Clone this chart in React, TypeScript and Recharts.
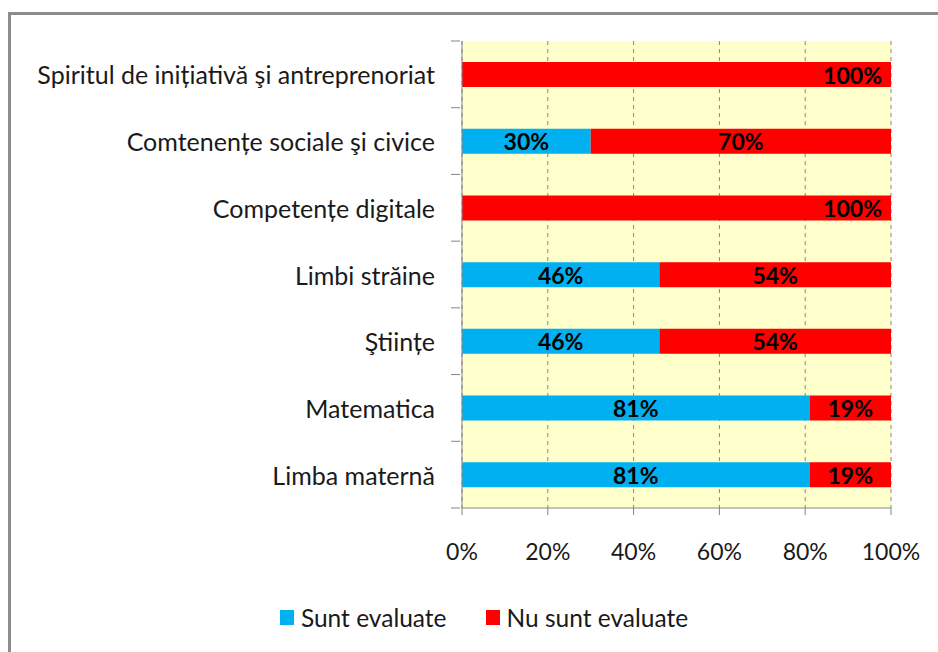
import React from "react";
import { BarChart, Bar, XAxis, YAxis, CartesianGrid, Legend, LabelList } from "recharts";

const categories = [
  "Spiritul de inițiativă şi antreprenoriat",
  "Comtenențe sociale şi civice",
  "Competențe digitale",
  "Limbi străine",
  "Ştiințe",
  "Matematica",
  "Limba maternă",
];
const evaluated = [0, 30, 0, 46, 46, 81, 81];
const notEvaluated = [100, 70, 100, 54, 54, 19, 19];
const xTicks = [0, 20, 40, 60, 80, 100];

const data = categories.map((name, i) => ({
  name,
  sunt: evaluated[i],
  nu: notEvaluated[i],
}));

const FONT = "Lato, 'Open Sans', sans-serif";
const AXIS = "#868686";
const TEXT = "#1a1a1a";
const BLUE = "#00B0F0";
const RED = "#FF0000";

const PLOT_TOP = 41;
const PLOT_BOTTOM = 508;
const HALF_BAND = (PLOT_BOTTOM - PLOT_TOP) / categories.length / 2;

function CategoryTick(props: any) {
  const { x, y, payload, index } = props;
  const last = index === categories.length - 1;
  return (
    <g>
      <line x1={x - 5} x2={x + 4} y1={y - HALF_BAND} y2={y - HALF_BAND} stroke={AXIS} />
      {last && (
        <line x1={x - 5} x2={x + 4} y1={y + HALF_BAND} y2={y + HALF_BAND} stroke={AXIS} />
      )}
      <text x={x - 21} y={y} textAnchor="end" dominantBaseline="central" fontFamily={FONT} fontSize={25} fill={TEXT}>
        {payload.value}
      </text>
    </g>
  );
}

function SegmentLabel(props: any) {
  const { x, y, width, height, value } = props;
  if (!value) return null;
  const full = value === 100;
  return (
    <text
      x={full ? x + width - 9 : x + width / 2}
      y={y + height / 2}
      textAnchor={full ? "end" : "middle"}
      dominantBaseline="central"
      fontFamily={FONT}
      fontWeight="bold"
      fontSize={23}
      fill="#000"
    >
      {value}%
    </text>
  );
}

function LegendContent() {
  const items = [
    { label: "Sunt evaluate", color: BLUE },
    { label: "Nu sunt evaluate", color: RED },
  ];
  return (
    <div style={{ display: "flex", justifyContent: "center", gap: 39, fontFamily: FONT, fontSize: 24.5, color: TEXT, paddingLeft: 30 }}>
      {items.map((it) => (
        <div key={it.label} style={{ display: "flex", alignItems: "center" }}>
          <span style={{ display: "inline-block", width: 14, height: 15, background: it.color, marginRight: 7 }} />
          {it.label}
        </div>
      ))}
    </div>
  );
}

export default function App() {
  return (
    <div style={{ position: "fixed", left: 0, top: 0, width: 938, height: 652, background: "#fff", overflow: "hidden" }}>
      <div
        style={{
          position: "absolute",
          left: 8,
          top: 12,
          width: 940,
          height: 660,
          border: "3px solid #8c8c8c",
          boxSizing: "border-box",
        }}
      />
      <div style={{ position: "absolute", left: 0, top: 0 }}>
        <BarChart
          width={938}
          height={652}
          data={data}
          layout="vertical"
          barSize={25}
          margin={{ top: PLOT_TOP, right: 47, left: 0, bottom: 0 }}
        >
          <CartesianGrid
            horizontal={false}
            strokeDasharray="4 4"
            stroke={AXIS}
            fill="#FFFFCC"
            fillOpacity={1}
          />
          <XAxis
            type="number"
            domain={[0, 100]}
            ticks={xTicks}
            tickFormatter={(v) => `${v}%`}
            height={652 - PLOT_BOTTOM}
            stroke={AXIS}
            tickSize={7}
            tickMargin={29}
            tick={{ fontFamily: FONT, fontSize: 23, fill: TEXT }}
            interval={0}
          />
          <YAxis
            type="category"
            dataKey="name"
            width={462}
            stroke={AXIS}
            tickLine={false}
            tick={<CategoryTick />}
            tickMargin={0}
            interval={0}
          />
          <Legend
            layout="horizontal"
            verticalAlign="middle"
            align="center"
            wrapperStyle={{ top: 603, left: 0, width: 938 }}
            content={<LegendContent />}
          />
          <Bar dataKey="sunt" name="Sunt evaluate" stackId="a" fill={BLUE} isAnimationActive={false}>
            <LabelList dataKey="sunt" content={<SegmentLabel />} />
          </Bar>
          <Bar dataKey="nu" name="Nu sunt evaluate" stackId="a" fill={RED} isAnimationActive={false}>
            <LabelList dataKey="nu" content={<SegmentLabel />} />
          </Bar>
        </BarChart>
      </div>
    </div>
  );
}
